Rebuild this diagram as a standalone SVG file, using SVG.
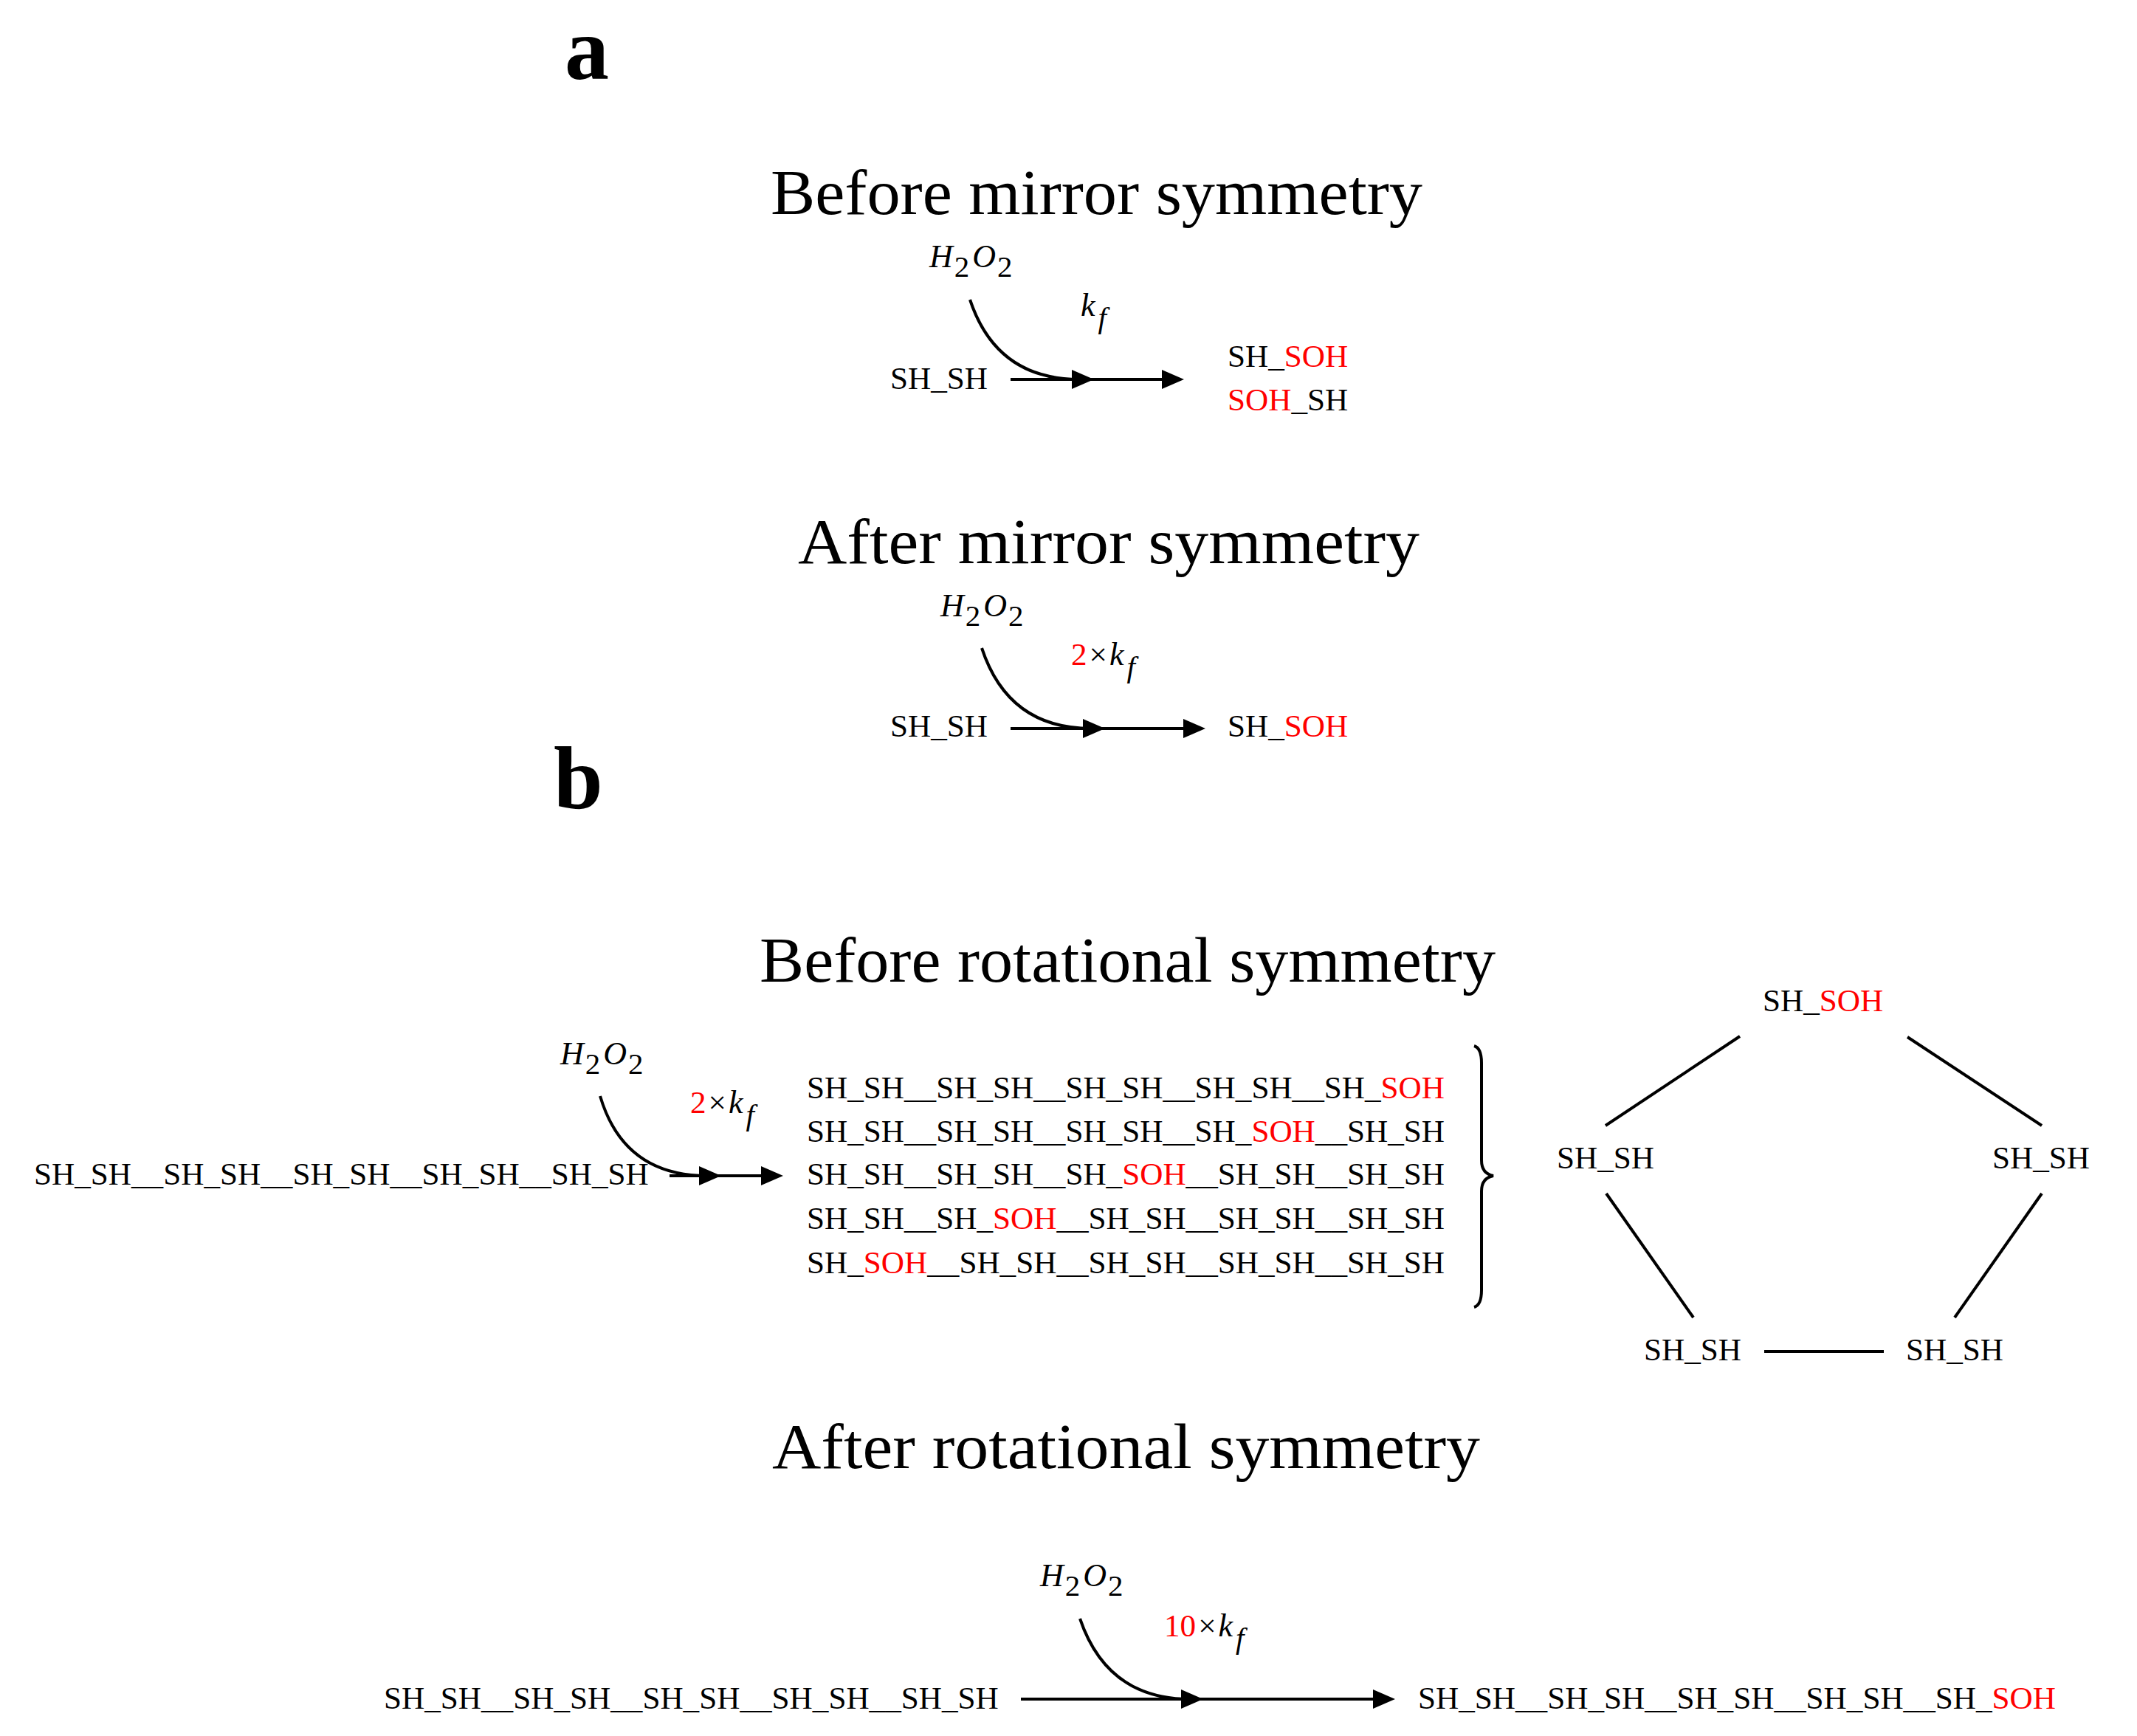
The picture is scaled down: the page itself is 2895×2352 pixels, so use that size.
<svg xmlns="http://www.w3.org/2000/svg" width="2895" height="2352" viewBox="0 0 2895 2352">
<style>
text{font-family:"Liberation Serif","Times New Roman",serif;fill:#000}
.t{font-size:43.2px}
.r{fill:#ff0000}
.title{font-size:86px}
.lbl{font-size:120px;font-weight:bold}
.m{font-size:44px;font-style:italic}
.n{font-style:normal}
.sub{font-size:41px;font-style:normal}
.fs{font-size:41px;font-style:italic}
.edge{stroke:#000;stroke-width:4;fill:none}
.ah{fill:#000}
</style>
<defs>
<path id="arr" d="M-30,-13 L0,0 L-30,13 Z"/>
</defs>
<rect width="2895" height="2352" fill="#fff"/>

<g id="label-a"><text class="lbl" x="765" y="107">a</text></g>
<g id="title-before-mirror"><text class="title" x="1044" y="290" textLength="883" lengthAdjust="spacingAndGlyphs">Before mirror symmetry</text></g>
<g id="title-after-mirror"><text class="title" x="1081" y="763" textLength="842" lengthAdjust="spacingAndGlyphs">After mirror symmetry</text></g>
<g id="label-b"><text class="lbl" x="750" y="1095">b</text></g>
<g id="title-before-rot"><text class="title" x="1029" y="1330" textLength="997" lengthAdjust="spacingAndGlyphs">Before rotational symmetry</text></g>
<g id="title-after-rot"><text class="title" x="1046" y="1989" textLength="959" lengthAdjust="spacingAndGlyphs">After rotational symmetry</text></g>

<!-- section a, before -->
<g id="a1-h2o2"><text class="m" x="1259" y="362">H<tspan class="sub" dx="2" dy="13">2</tspan><tspan dx="4" dy="-13">O</tspan><tspan class="sub" dx="2" dy="13">2</tspan></text></g>
<g id="a1-rate"><text class="m" x="1464" y="428">k<tspan class="fs" dx="4" dy="16">f</tspan></text></g>
<g id="a1-src"><text class="t" x="1206" y="527">SH_SH</text></g>
<g id="a1-prod"><text class="t" x="1663" y="497">SH_<tspan class="r">SOH</tspan></text><text class="t" x="1663" y="556"><tspan class="r">SOH</tspan>_SH</text></g>

<!-- section a, after -->
<g id="a2-h2o2"><text class="m" x="1274" y="835">H<tspan class="sub" dx="2" dy="13">2</tspan><tspan dx="4" dy="-13">O</tspan><tspan class="sub" dx="2" dy="13">2</tspan></text></g>
<g id="a2-rate"><text class="t" x="1451" y="901"><tspan class="r">2</tspan><tspan dx="3">×</tspan><tspan class="m" dx="3">k</tspan><tspan class="fs" dx="4" dy="16">f</tspan></text></g>
<g id="a2-src"><text class="t" x="1206" y="998">SH_SH</text></g>
<g id="a2-prod"><text class="t" x="1663" y="998">SH_<tspan class="r">SOH</tspan></text></g>

<!-- section b, before -->
<g id="b1-h2o2"><text class="m" x="759" y="1442">H<tspan class="sub" dx="2" dy="13">2</tspan><tspan dx="4" dy="-13">O</tspan><tspan class="sub" dx="2" dy="13">2</tspan></text></g>
<g id="b1-rate"><text class="t" x="935" y="1508"><tspan class="r">2</tspan><tspan dx="3">×</tspan><tspan class="m" dx="3">k</tspan><tspan class="fs" dx="4" dy="16">f</tspan></text></g>
<g id="b1-src"><text class="t" x="46" y="1605">SH_SH__SH_SH__SH_SH__SH_SH__SH_SH</text></g>
<g id="b1-prod">
<text class="t" x="1093" y="1488">SH_SH__SH_SH__SH_SH__SH_SH__SH_<tspan class="r">SOH</tspan></text>
<text class="t" x="1093" y="1547">SH_SH__SH_SH__SH_SH__SH_<tspan class="r">SOH</tspan>__SH_SH</text>
<text class="t" x="1093" y="1605">SH_SH__SH_SH__SH_<tspan class="r">SOH</tspan>__SH_SH__SH_SH</text>
<text class="t" x="1093" y="1665">SH_SH__SH_<tspan class="r">SOH</tspan>__SH_SH__SH_SH__SH_SH</text>
<text class="t" x="1093" y="1725">SH_<tspan class="r">SOH</tspan>__SH_SH__SH_SH__SH_SH__SH_SH</text>
</g>
<g id="b1-brace"><path class="edge" d="M1997,1417 Q2007,1420 2007,1440 L2007,1572 Q2007,1590 2023,1593 Q2007,1596 2007,1614 L2007,1748 Q2007,1768 1997,1771"/></g>

<!-- pentagon -->
<g id="p-top"><text class="t" x="2388" y="1370">SH_<tspan class="r">SOH</tspan></text></g>
<g id="p-left"><text class="t" x="2109" y="1583">SH_SH</text></g>
<g id="p-right"><text class="t" x="2699" y="1583">SH_SH</text></g>
<g id="p-bl"><text class="t" x="2227" y="1843">SH_SH</text></g>
<g id="p-br"><text class="t" x="2582" y="1843">SH_SH</text></g>

<!-- section b, after -->
<g id="b2-h2o2"><text class="m" x="1409" y="2149">H<tspan class="sub" dx="2" dy="13">2</tspan><tspan dx="4" dy="-13">O</tspan><tspan class="sub" dx="2" dy="13">2</tspan></text></g>
<g id="b2-rate"><text class="t" x="1577" y="2217"><tspan class="r">10</tspan><tspan dx="3">×</tspan><tspan class="m" dx="3">k</tspan><tspan class="fs" dx="4" dy="16">f</tspan></text></g>
<g id="b2-src"><text class="t" x="520" y="2315">SH_SH__SH_SH__SH_SH__SH_SH__SH_SH</text></g>
<g id="b2-prod"><text class="t" x="1921" y="2315">SH_SH__SH_SH__SH_SH__SH_SH__SH_<tspan class="r">SOH</tspan></text></g>

<g id="connectors">
<!-- a1 -->
<path class="edge" d="M1314,406 Q1350,514 1462,514"/>
<path class="edge" d="M1369,514 L1590,514"/>
<use href="#arr" class="ah" x="1482" y="514"/>
<use href="#arr" class="ah" x="1604" y="514"/>
<!-- a2 -->
<path class="edge" d="M1330,878 Q1366,987 1478,987"/>
<path class="edge" d="M1369,987 L1618,987"/>
<use href="#arr" class="ah" x="1497" y="987"/>
<use href="#arr" class="ah" x="1633" y="987"/>
<!-- b1 -->
<path class="edge" d="M813,1485 Q845,1593 958,1593"/>
<path class="edge" d="M907,1593 L1046,1593"/>
<use href="#arr" class="ah" x="977" y="1593"/>
<use href="#arr" class="ah" x="1061" y="1593"/>
<!-- b2 -->
<path class="edge" d="M1463,2193 Q1500,2302 1612,2302"/>
<path class="edge" d="M1383,2302 L1875,2302"/>
<use href="#arr" class="ah" x="1630" y="2302"/>
<use href="#arr" class="ah" x="1890" y="2302"/>
<!-- pentagon edges -->
<line class="edge" x1="2357" y1="1404" x2="2175" y2="1525"/>
<line class="edge" x1="2584" y1="1405" x2="2766" y2="1525"/>
<line class="edge" x1="2176" y1="1617" x2="2294" y2="1785"/>
<line class="edge" x1="2766" y1="1617" x2="2648" y2="1785"/>
<line class="edge" x1="2390" y1="1831" x2="2552" y2="1831"/>
</g>
</svg>
